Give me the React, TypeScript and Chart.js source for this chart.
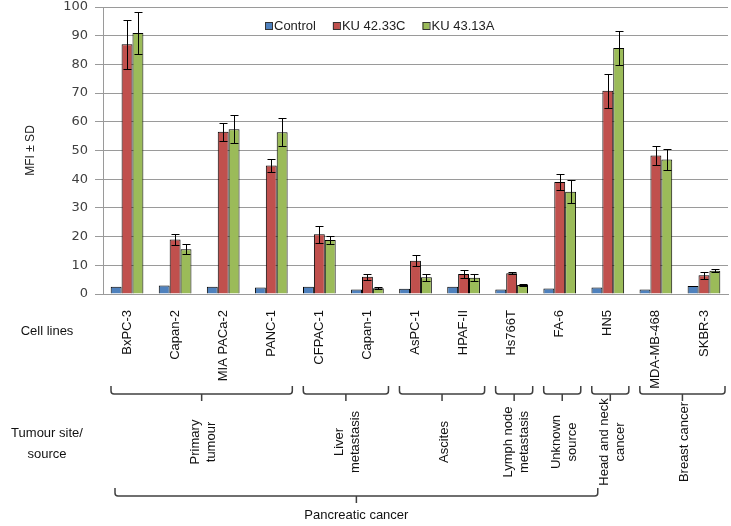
import React, { useEffect, useRef } from "react";
import { Chart, registerables } from "chart.js";

Chart.register(...registerables);

// ---------- data ----------
const cellLines = [
  "BxPC-3", "Capan-2", "MIA PACa-2", "PANC-1", "CFPAC-1", "Capan-1", "AsPC-1",
  "HPAF-II", "Hs766T", "FA-6", "HN5", "MDA-MB-468", "SKBR-3",
];
const seriesNames = ["Control", "KU 42.33C", "KU 43.13A"];
const controlMfi = [2.5, 3.0, 2.5, 2.3, 2.5, 1.6, 1.8, 2.5, 1.6, 1.9, 2.3, 1.6, 2.8];
const ku4233cMfi = [87, 19, 56.5, 44.8, 20.8, 6, 11.6, 7, 7.2, 39, 70.8, 48.3, 6.5];
const ku4233cSd = [8.6, 1.9, 3.2, 2.2, 3.0, 1.0, 1.9, 1.5, 0.4, 2.7, 5.9, 3.4, 1.2];
const ku4313aMfi = [90.9, 15.6, 57.4, 56.4, 18.8, 2.0, 5.8, 5.7, 3.1, 35.6, 85.7, 46.9, 8.1];
const ku4313aSd = [7.2, 1.8, 4.9, 5.0, 1.5, 0.3, 1.3, 1.3, 0.4, 4.0, 6.0, 3.7, 0.5];
const yTickValues = [0, 10, 20, 30, 40, 50, 60, 70, 80, 90, 100];

const groupLabels = [
  ["Primary", "tumour"],
  ["Liver", "metastasis"],
  ["Ascites"],
  ["Lymph node", "metastasis"],
  ["Unknown", "source"],
  ["Head and neck", "cancer"],
  ["Breast cancer"],
];
const groupFirst = [0, 4, 6, 8, 9, 10, 11];
const groupLast = [3, 5, 7, 8, 9, 10, 12];
const superLabel = "Pancreatic cancer";
const superFirst = 0;
const superLast = 9;
const rowLabelCells = ["Cell lines"];
const rowLabelSite = ["Tumour site/", "source"];

const colors = ["#4F81BD", "#C0504D", "#9BBB59"];

// ---------- plugins ----------
const errorBarPlugin = {
  id: "errorBars",
  afterDatasetsDraw(chart: any) {
    const ctx = chart.ctx;
    const y = chart.scales.y;
    chart.data.datasets.forEach((ds: any, i: number) => {
      const errs = ds.errors;
      if (!errs) return;
      const meta = chart.getDatasetMeta(i);
      meta.data.forEach((bar: any, j: number) => {
        const v = ds.data[j];
        const e = errs[j];
        const top = Math.round(y.getPixelForValue(v + e)) + 0.5;
        const bot = Math.round(y.getPixelForValue(v - e)) + 0.5;
        const x = Math.round(bar.x) + 0.5;
        ctx.save();
        ctx.strokeStyle = "#000";
        ctx.lineWidth = 1;
        ctx.beginPath();
        ctx.moveTo(x, top);
        ctx.lineTo(x, bot);
        ctx.moveTo(x - 4, top);
        ctx.lineTo(x + 4, top);
        ctx.moveTo(x - 4, bot);
        ctx.lineTo(x + 4, bot);
        ctx.stroke();
        ctx.restore();
      });
    });
  },
};

const legendPlugin = {
  id: "customLegend",
  afterDraw(chart: any) {
    const ctx = chart.ctx;
    const area = chart.chartArea;
    let x = area.left + 162;
    const y = area.top + 19;
    ctx.save();
    ctx.font = "13px 'Liberation Sans', Arial, sans-serif";
    ctx.textBaseline = "middle";
    ctx.textAlign = "left";
    chart.data.datasets.forEach((ds: any) => {
      ctx.fillStyle = ds.backgroundColor;
      ctx.fillRect(x, y - 4, 7, 7);
      ctx.strokeStyle = "#333";
      ctx.lineWidth = 1;
      ctx.strokeRect(x + 0.5, y - 3.5, 7, 7);
      ctx.fillStyle = "#222";
      ctx.fillText(ds.label, x + 9, y);
      x += 9 + ctx.measureText(ds.label).width + 17;
    });
    ctx.restore();
  },
};

function bracket(ctx: any, x1: number, x2: number, yTop: number, yLine: number, yTick: number) {
  const xc = (x1 + x2) / 2;
  ctx.beginPath();
  ctx.moveTo(x1, yTop);
  ctx.lineTo(x1, yLine - 3);
  ctx.quadraticCurveTo(x1, yLine, x1 + 3, yLine);
  ctx.lineTo(x2 - 3, yLine);
  ctx.quadraticCurveTo(x2, yLine, x2, yLine - 3);
  ctx.lineTo(x2, yTop);
  ctx.moveTo(xc, yLine);
  ctx.lineTo(xc, yTick);
  ctx.stroke();
  return xc;
}

function rotatedLines(ctx: any, lines: string[], cx: number, cy: number, lh: number) {
  ctx.save();
  ctx.translate(cx, cy);
  ctx.rotate(-Math.PI / 2);
  ctx.textAlign = "center";
  ctx.textBaseline = "middle";
  const n = lines.length;
  lines.forEach((t, i) => {
    ctx.fillText(t, 0, (i - (n - 1) / 2) * lh);
  });
  ctx.restore();
}

const annotationPlugin = {
  id: "groupAnnotations",
  afterDraw(chart: any) {
    const ctx = chart.ctx;
    const xs = chart.scales.x;
    const area = chart.chartArea;
    const b = area.bottom;
    const cw = xs.getPixelForValue(1) - xs.getPixelForValue(0);
    const leftEdge = (i: number) => xs.getPixelForValue(i) - cw / 2;
    const rightEdge = (i: number) => xs.getPixelForValue(i) + cw / 2;

    ctx.save();
    ctx.strokeStyle = "#404040";
    ctx.lineWidth = 1.5;
    ctx.fillStyle = "#111";
    ctx.font = "13px 'Liberation Sans', Arial, sans-serif";

    groupLabels.forEach((lines, g) => {
      const x1 = leftEdge(groupFirst[g]) + 8;
      const x2 = rightEdge(groupLast[g]) - 3;
      const xc = bracket(ctx, x1, x2, b + 92, b + 100, b + 107);
      rotatedLines(ctx, lines, xc + 2, b + 148, 16);
    });

    const sx1 = leftEdge(superFirst) + 12;
    const sx2 = rightEdge(superLast) + 14;
    const sxc = bracket(ctx, sx1, sx2, b + 194, b + 202, b + 209);
    ctx.textAlign = "center";
    ctx.textBaseline = "middle";
    ctx.fillText(superLabel, sxc, b + 221);

    const lx = area.left - 56;
    rowLabelCells.forEach((t, i) => ctx.fillText(t, lx, b + 37 + i * 21));
    rowLabelSite.forEach((t, i) => ctx.fillText(t, lx, b + 139 + i * 21));
    ctx.restore();
  },
};

// ---------- component ----------
export default function App() {
  const canvasRef = useRef<HTMLCanvasElement | null>(null);

  useEffect(() => {
    const canvas = canvasRef.current;
    if (!canvas) return;
    const gridColor = "#9a9a9a";
    const chart = new Chart(canvas, {
      type: "bar",
      data: {
        labels: cellLines,
        datasets: [
          { label: seriesNames[0], data: controlMfi, backgroundColor: colors[0] },
          { label: seriesNames[1], data: ku4233cMfi, backgroundColor: colors[1], errors: ku4233cSd } as any,
          { label: seriesNames[2], data: ku4313aMfi, backgroundColor: colors[2], errors: ku4313aSd } as any,
        ].map((d: any) => ({
          ...d,
          borderColor: "#000",
          borderWidth: 1,
          categoryPercentage: 0.68,
          barPercentage: 1.0,
        })),
      },
      options: {
        responsive: false,
        animation: false,
        maintainAspectRatio: false,
        layout: { padding: { left: 0, top: 0, right: 3, bottom: 0 } },
        plugins: {
          legend: { display: false },
          tooltip: { enabled: false },
        },
        scales: {
          x: {
            grid: { display: false },
            border: { display: true, color: gridColor, width: 1 },
            ticks: {
              minRotation: 90,
              maxRotation: 90,
              autoSkip: false,
              padding: 8,
              color: "#111",
              font: { family: "'Liberation Sans', Arial, sans-serif", size: 13 },
            },
            afterFit: (scale: any) => {
              scale.height = 232;
            },
          },
          y: {
            min: 0,
            max: 100,
            afterBuildTicks: (scale: any) => {
              scale.ticks = yTickValues.map((v) => ({ value: v }));
            },
            grid: { color: gridColor, lineWidth: 1, tickLength: 8, drawTicks: true },
            border: { display: true, color: gridColor, width: 1 },
            ticks: {
              padding: 7,
              color: "#404040",
              font: { family: "'DejaVu Sans', Verdana, sans-serif", size: 13, lineHeight: 0 },
            },
            title: {
              display: true,
              text: "MFI ± SD",
              color: "#222",
              padding: { top: 23, bottom: 0 },
              font: { family: "'Liberation Sans', Arial, sans-serif", size: 12 },
            },
            afterFit: (scale: any) => {
              scale.width = 103;
            },
          },
        },
      },
      plugins: [errorBarPlugin, legendPlugin, annotationPlugin],
    } as any);
    return () => chart.destroy();
  }, []);

  return (
    <div style={{ position: "absolute", left: 0, top: 0, width: 731, height: 526, background: "#fff" }}>
      <canvas ref={canvasRef} width={731} height={526} style={{ display: "block" }} />
    </div>
  );
}
